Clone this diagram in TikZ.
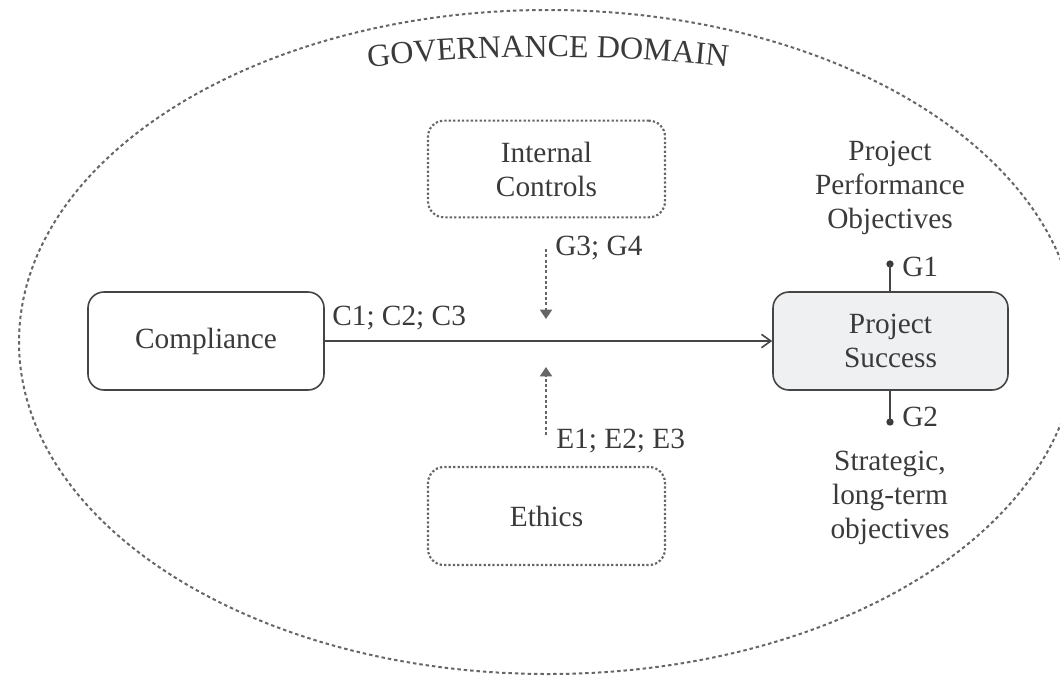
\documentclass[tikz,border=0pt]{standalone}
\usepackage{fontspec}
\setmainfont{Liberation Serif}
\usetikzlibrary{arrows.meta,decorations.text}

\definecolor{ink}{HTML}{3A3A3A}
\definecolor{edge}{HTML}{454545}
\definecolor{dotgray}{HTML}{666666}
\definecolor{psfill}{HTML}{EFF0F2}

\newcommand{\bodyfont}{\fontsize{22}{25.5}\selectfont}
\newcommand{\titlefont}{\fontsize{24}{28}\selectfont}

\begin{document}
\begin{tikzpicture}[x=0.75pt,y=-0.75pt,
  txt/.style={font=\bodyfont, text=ink, align=center, inner sep=0pt},
  solidbox/.style={draw=edge, line width=1.2pt, rounded corners=12pt,
    minimum width=177pt, minimum height=73.5pt, txt},
  dotbox/.style={draw=dotgray, line width=1.6pt, rounded corners=12pt,
    dash pattern=on 1.7pt off 1.6pt,
    minimum width=177.75pt, minimum height=72.5pt, txt},
  mainarrow/.style={draw=edge, line width=1.2pt,
    -{Straight Barb[length=7pt,width=10pt,line width=1.2pt]}},
  dasharrow/.style={draw=dotgray, line width=1.5pt, dash pattern=on 2.2pt off 1.8pt,
    -{Triangle[length=7pt,width=9pt]}},
  stem/.style={draw=edge, line width=1.2pt},
  dotend/.style={circle, fill=ink, inner sep=0pt, minimum size=5.5pt},
  lbl/.style={txt}
]
\useasboundingbox (0,0) rectangle (1060,676);
\clip (0,0) rectangle (1060,676);

% governance domain boundary
\draw[dotgray, line width=1.5pt, dash pattern=on 2.6pt off 2.2pt]
  (548,342) ellipse [x radius=396.75pt, y radius=249pt];

% curved title
\path[decorate, decoration={text along path, text align=center,
    text={|\titlefont\color{ink}|GOVERNANCE DOMAIN}}]
  (330,72) .. controls (472,52) and (624,52) .. (766,72);

% main blocks
\node[solidbox] (comp) at (206,341) {Compliance};
\node[solidbox, fill=psfill, minimum width=176.25pt] (succ) at (890.5,341) {Project\\Success};
\node[dotbox] (ic) at (546.5,169) {Internal\\Controls};
\node[dotbox, minimum height=73.5pt] (eth) at (546.5,516) {Ethics};

% main relation
\draw[mainarrow] (comp.east) -- (succ.west);
\node[lbl, anchor=west] (clbl) at (332,318) {C1; C2; C3};

% moderating influences
\coordinate (g3start) at (546,249);
\coordinate (g3end) at (546,319);
\coordinate (e1start) at (546,435);
\coordinate (e1end) at (546,367);
\draw[dasharrow] (g3start) -- (g3end);
\draw[dasharrow] (e1start) -- (e1end);
\node[lbl, anchor=west] (glbl) at (555,248) {G3; G4};
\node[lbl, anchor=west] (elbl) at (556,441) {E1; E2; E3};

% success dimensions
\node[dotend] (g1dot) at (890,264) {};
\node[dotend] (g2dot) at (890,422) {};
\draw[stem] (succ.north -| g1dot) -- (g1dot.center);
\draw[stem] (succ.south -| g2dot) -- (g2dot.center);
\node[lbl, anchor=west] (g1lbl) at (902,267) {G1};
\node[lbl, anchor=west] (g2lbl) at (902,417) {G2};
\node[txt] (perf) at (890,188) {Project\\Performance\\Objectives};
\node[txt] (strat) at (890,498) {Strategic,\\long-term\\objectives};
\end{tikzpicture}
\end{document}
